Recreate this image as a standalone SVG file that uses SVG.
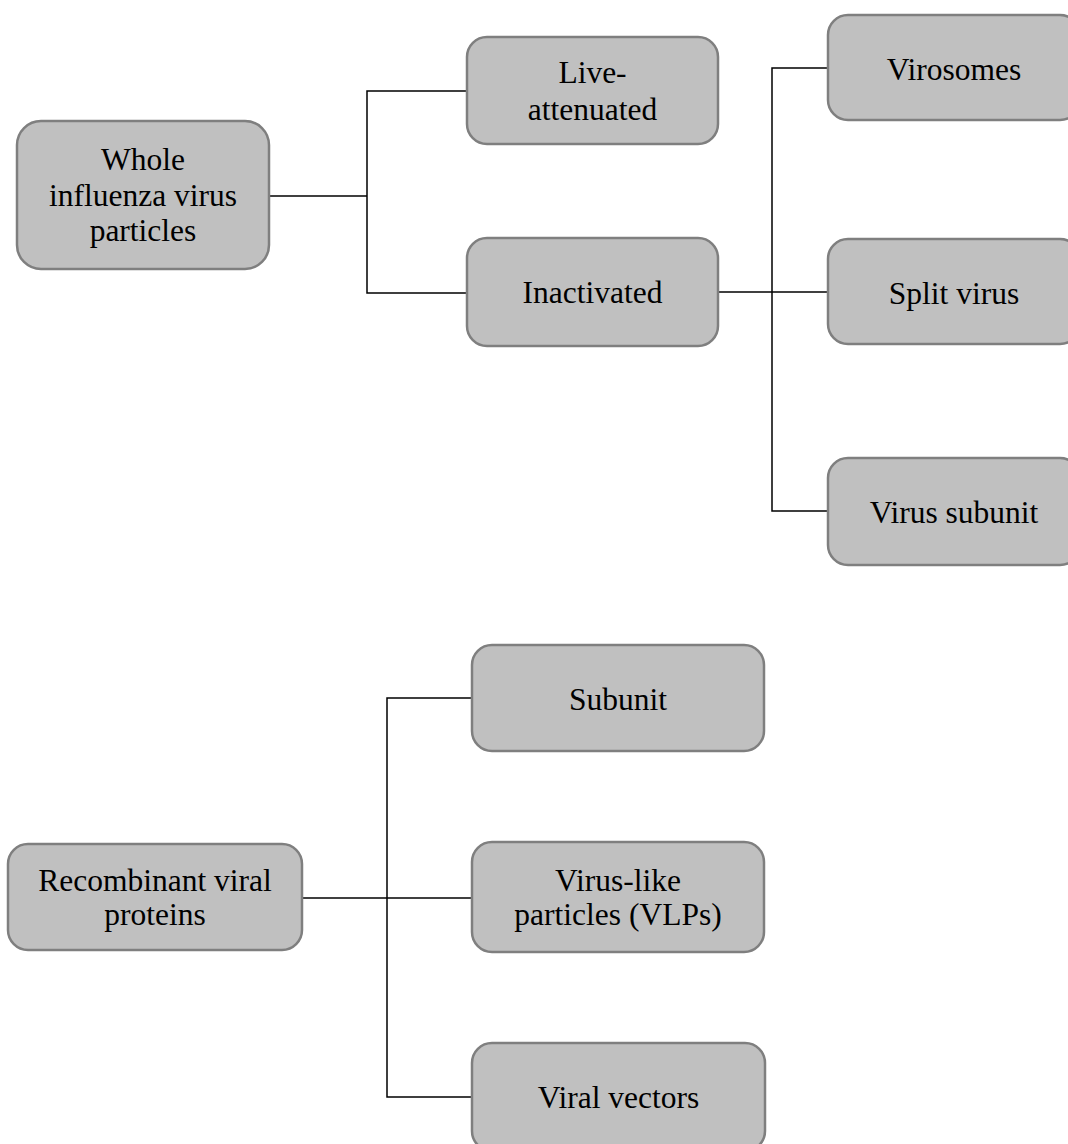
<svg xmlns="http://www.w3.org/2000/svg" width="1068" height="1144" viewBox="0 0 1068 1144">
  <style>
    .box { fill: #c0c0c0; stroke: #7f7f7f; stroke-width: 2.5; }
    .lbl { font-family: "Liberation Serif", "Times New Roman", serif; font-size: 31.5px; fill: #000; text-anchor: middle; }
    .wire { fill: none; stroke: #000; stroke-width: 1.5; }
  </style>
  <rect width="1068" height="1144" fill="#fff"/>

  <!-- connectors -->
  <g id="connectors" class="wire">
    <path d="M269 196 H367"/>
    <path d="M467 91 H367 V293 H467"/>
    <path d="M718 292 H828"/>
    <path d="M828 68 H772 V511 H828"/>
    <path d="M302 898 H472"/>
    <path d="M472 698 H387 V1097 H472"/>
  </g>

  <!-- influenza virus branch -->
  <g id="whole-virus">
    <rect class="box" x="17" y="121" width="252" height="148" rx="24"/>
    <text class="lbl" x="143" y="170">Whole</text>
    <text class="lbl" x="143" y="206">influenza virus</text>
    <text class="lbl" x="143" y="241">particles</text>
  </g>
  <g id="live-attenuated">
    <rect class="box" x="467" y="37" width="251" height="107" rx="20"/>
    <text class="lbl" x="592.5" y="83">Live-</text>
    <text class="lbl" x="592.5" y="120">attenuated</text>
  </g>
  <g id="inactivated">
    <rect class="box" x="467" y="238" width="251" height="108" rx="20"/>
    <text class="lbl" x="592.5" y="303">Inactivated</text>
  </g>
  <g id="virosomes">
    <rect class="box" x="828" y="15" width="252" height="105" rx="20"/>
    <text class="lbl" x="954" y="80">Virosomes</text>
  </g>
  <g id="split-virus">
    <rect class="box" x="828" y="239" width="252" height="105" rx="20"/>
    <text class="lbl" x="954" y="304">Split virus</text>
  </g>
  <g id="virus-subunit">
    <rect class="box" x="828" y="458" width="252" height="107" rx="20"/>
    <text class="lbl" x="954" y="523">Virus subunit</text>
  </g>

  <!-- recombinant branch -->
  <g id="recombinant">
    <rect class="box" x="8" y="844" width="294" height="106" rx="20"/>
    <text class="lbl" x="155" y="891">Recombinant viral</text>
    <text class="lbl" x="155" y="925">proteins</text>
  </g>
  <g id="subunit">
    <rect class="box" x="472" y="645" width="292" height="106" rx="20"/>
    <text class="lbl" x="618" y="710">Subunit</text>
  </g>
  <g id="vlps">
    <rect class="box" x="472" y="842" width="292" height="110" rx="20"/>
    <text class="lbl" x="618" y="891">Virus-like</text>
    <text class="lbl" x="618" y="925">particles (VLPs)</text>
  </g>
  <g id="viral-vectors">
    <rect class="box" x="472" y="1043" width="293" height="108" rx="20"/>
    <text class="lbl" x="618.5" y="1108">Viral vectors</text>
  </g>
</svg>
